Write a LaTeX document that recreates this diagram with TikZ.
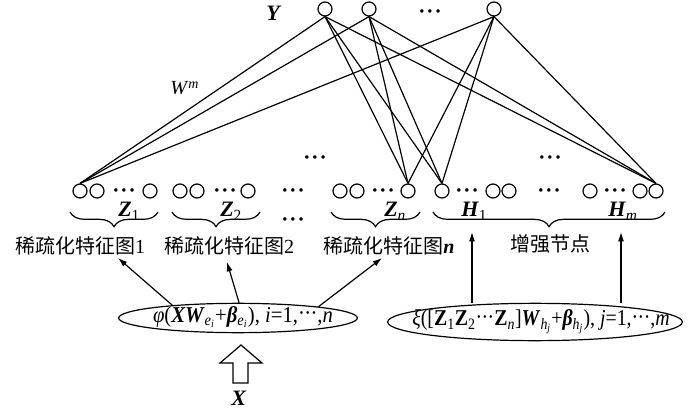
\documentclass[tikz,border=0pt]{standalone}
\usepackage{fontspec}
\setmainfont{Liberation Serif}
\newfontfamily\cjk{Noto Sans CJK SC}
\usetikzlibrary{shapes.geometric,decorations.pathreplacing,arrows.meta}
\newcommand{\mydots}{\textbf{·\kern0.8pt·\kern0.8pt·}}
\newcommand{\edots}{\raisebox{0.05em}{·\kern-0.5pt·\kern-0.5pt·}}
\begin{document}
\begin{tikzpicture}[x=0.75pt,y=-0.75pt,
  nd/.style={circle,draw,line width=0.9pt,minimum size=10.5pt,inner sep=0pt},
  dt/.style={inner sep=0pt,yshift=-1.4pt,font=\fontsize{16}{16}\selectfont},
  lnk/.style={line width=0.9pt},
  brc/.style={decorate,decoration={brace,mirror,amplitude=11pt},line width=0.9pt},
  lab/.style={font=\fontsize{15}{18}\selectfont,inner sep=0pt},
  sym/.style={font=\fontsize{16.5}{18}\selectfont,inner sep=0pt,anchor=base west},
  arr/.style={line width=0.9pt,-{Latex[length=7pt,width=4.5pt]}},
  ell/.style={ellipse,draw,line width=0.9pt,inner sep=0pt},
  etx/.style={inner sep=0pt,font=\fontsize{17}{19}\selectfont},
]
\useasboundingbox (0,0) rectangle (698,416);
% top layer
\node[nd] (y1) at (325,9) {};
\node[nd] (y2) at (369,9) {};
\node[dt] (ydots) at (430,12) {\mydots};
\node[nd] (y3) at (494,9) {};
\node[sym] (Ylab) at (266,21) {\textbf{\textit{Y}}};
\node[sym,font=\fontsize{15}{18}\selectfont] (Wlab) at (170,95) {\textit{W}\textsuperscript{\textit{m}}};
% bottom layer
\node[nd] (g1a) at (80,191) {};
\node[nd] (g1b) at (97,191) {};
\node[dt] (g1d) at (124,191) {\mydots};
\node[nd] (g1c) at (150,191) {};
\node[nd] (g2a) at (180,191) {};
\node[nd] (g2b) at (197,191) {};
\node[dt] (g2d) at (225,191) {\mydots};
\node[nd] (g2c) at (248,191) {};
\node[dt] (md1) at (293,191) {\mydots};
\node[dt] (md2) at (293,220) {\mydots};
\node[nd] (gna) at (340,191) {};
\node[nd] (gnb) at (357,191) {};
\node[dt] (gnd) at (383,191) {\mydots};
\node[nd] (gnc) at (408,191) {};
\node[nd] (h1a) at (442,191) {};
\node[dt] (h1d) at (467,191) {\mydots};
\node[nd] (h1b) at (493,191) {};
\node[nd] (h1c) at (509,191) {};
\node[dt] (hmid) at (549,191) {\mydots};
\node[nd] (hma) at (590,191) {};
\node[dt] (hmd) at (615,191) {\mydots};
\node[nd] (hmb) at (640,191) {};
\node[nd] (hmc) at (656,191) {};
\node[dt] (cd1) at (315,158) {\mydots};
\node[dt] (cd2) at (550,158) {\mydots};
% connections
\foreach \t in {y1,y2,y3}
  \foreach \b in {g1a,gnc,h1a,hmc}
    \draw[lnk] (\t.south) -- (\b.north);
% braces
\draw[brc] (70,212) -- (158,212);
\draw[brc] (172,212) -- (260,212);
\draw[brc] (331,212) -- (420,212);
\draw[brc] (433,212) -- (665,212);
\node[sym] (Z1) at (118,217) {\textbf{\textit{Z}}\textsubscript{1}};
\node[sym] (Z2) at (220,217) {\textbf{\textit{Z}}\textsubscript{2}};
\node[sym] (Zn) at (384,217) {\textbf{\textit{Z}}\textsubscript{\textit{n}}};
\node[sym] (H1) at (461,217) {\textbf{\textit{H}}\textsubscript{1}};
\node[sym] (Hm) at (608,217) {\textbf{\textit{H}}\textsubscript{\textit{m}}};
% group labels
\node[lab] (lab1) at (80,246) {{\cjk 稀疏化特征图}1};
\node[lab] (lab2) at (229,246) {{\cjk 稀疏化特征图}2};
\node[lab] (labn) at (389,246) {{\cjk 稀疏化特征图}\textbf{\textit{n}}};
\node[lab] (labh) at (550,244) {{\cjk 增强节点}};
% ellipses
\node[ell,minimum width=179pt,minimum height=22pt] (el) at (238,318) {};
\node[etx] (eltx) at (243,317)
  {\resizebox{135pt}{\height}{\textit{φ}(\textbf{\textit{XW}}\textsubscript{\textit{e}\textsubscript{\textit{i}}}+\textbf{\textit{β}}\textsubscript{\textit{e}\textsubscript{\textit{i}}}), \textit{i}=1,\edots,\textit{n}}};
\node[ell,minimum width=221pt,minimum height=28pt] (er) at (535,322) {};
\node[etx] (ertx) at (541,322)
  {\resizebox{193pt}{\height}{\textit{ξ}([\textbf{Z}\textsubscript{1}\textbf{Z}\textsubscript{2}\edots\textbf{Z}\textsubscript{\textit{n}}]\textbf{\textit{W}}\textsubscript{\textit{h}\textsubscript{\textit{j}}}+\textbf{\textit{β}}\textsubscript{\textit{h}\textsubscript{\textit{j}}}), \textit{j}=1,\edots,\textit{m}}};
% arrows
\coordinate (a1t) at (118,258);
\coordinate (a2t) at (227,262);
\coordinate (a3t) at (382,258);
\coordinate (b1t) at (472,232);
\coordinate (b2t) at (621,232);
\draw[arr] (el.169) -- (a1t);
\draw[arr] (el.86) -- (a2t);
\draw[arr] (el.8) -- (a3t);
\draw[arr] (b1t |- er.north) -- (b1t);
\draw[arr] (b2t |- er.north) -- (b2t);
% input arrow
\draw[line width=0.9pt] (241,345) -- (262,363) -- (248,363) -- (248,383)
  -- (233,383) -- (233,363) -- (220,363) -- cycle;
\node[sym] (Xlab) at (231,405) {\textbf{\textit{X}}};
\end{tikzpicture}
\end{document}
